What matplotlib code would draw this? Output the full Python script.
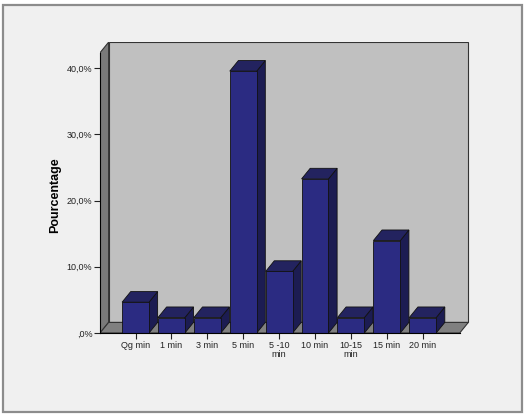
import numpy as np
import matplotlib
matplotlib.use("Agg")
import matplotlib.pyplot as plt
from matplotlib.patches import Polygon, Rectangle

plt.rcParams['font.family'] = ['Liberation Sans', 'DejaVu Sans']

# data (percent of 43 answers)
categories = ['Qg min', '1 min', '3 min', '5 min', '5 -10\nmin', '10 min', '10-15\nmin', '15 min', '20 min']
pourcentage = [4.65, 2.33, 2.33, 39.53, 9.30, 23.26, 2.33, 13.95, 2.33]
yticks = [0, 10, 20, 30, 40]
ytick_labels = [',0%', '10,0%', '20,0%', '30,0%', '40,0%']

# 3d look
dx, dy = 0.24, 1.6          # depth offset (x units, percent)
w = 0.75                    # bar width
x0, xend = -0.99, 9.03      # front left / right of the floor
wall_top = 42.3

fig = plt.figure(figsize=(5.28, 4.16), dpi=100, facecolor='white')
fig.patches.append(Rectangle((3 / 528, 1 - 412 / 416), 519 / 528, 407 / 416,
                             transform=fig.transFigure, facecolor='#f0f0f0',
                             edgecolor='#8c8c8c', lw=1.6, zorder=-10))

ax = fig.add_axes([100 / 528, (416 - 333) / 416, 371.2 / 528, 291.5 / 416])
ax.set_xlim(-0.99, 9.35)
ax.set_ylim(0, 44)
ax.patch.set_visible(False)

# walls and floor
ax.add_patch(Polygon([(x0 + dx, dy), (xend + dx, dy), (xend + dx, wall_top + dy), (x0 + dx, wall_top + dy)],
                     closed=True, fc='#c0c0c0', ec='#333333', lw=0.8, zorder=1))
ax.add_patch(Polygon([(x0, 0), (x0 + dx, dy), (x0 + dx, wall_top + dy), (x0, wall_top)],
                     closed=True, fc='#7a7a7a', ec='#333333', lw=0.8, zorder=1))
ax.add_patch(Polygon([(x0, 0), (xend, 0), (xend + dx, dy), (x0 + dx, dy)],
                     closed=True, fc='#808080', ec='#333333', lw=0.8, zorder=1))

# bars
for i, v in enumerate(pourcentage):
    l, r = i - w / 2, i + w / 2
    ax.add_patch(Polygon([(r, 0), (r + dx, dy), (r + dx, v + dy), (r, v)],
                         closed=True, fc='#1c1c52', ec='#111111', lw=0.6, zorder=2))
    ax.add_patch(Polygon([(l, v), (r, v), (r + dx, v + dy), (l + dx, v + dy)],
                         closed=True, fc='#23235f', ec='#111111', lw=0.6, zorder=2))
    ax.add_patch(Rectangle((l, 0), w, v, fc='#2b2b82', ec='#111111', lw=0.6, zorder=3))

for s in ['top', 'right']:
    ax.spines[s].set_visible(False)
ax.spines['left'].set_bounds(0, wall_top)
ax.spines['bottom'].set_bounds(x0, xend)
ax.spines['left'].set_zorder(4)
ax.spines['bottom'].set_zorder(4)

ax.set_yticks(yticks)
ax.set_yticklabels(ytick_labels, fontsize=6.5)
ax.set_xticks(range(len(categories)))
ax.set_xticklabels(categories, fontsize=6.5, linespacing=1.1)
ax.tick_params(axis='both', length=4, width=0.8, pad=1.5, colors='#222222')
ax.set_ylabel('Pourcentage', fontsize=9, fontweight='bold')
ax.yaxis.set_label_coords(-0.105, 0.473)

fig.savefig('out.png', dpi=100)
